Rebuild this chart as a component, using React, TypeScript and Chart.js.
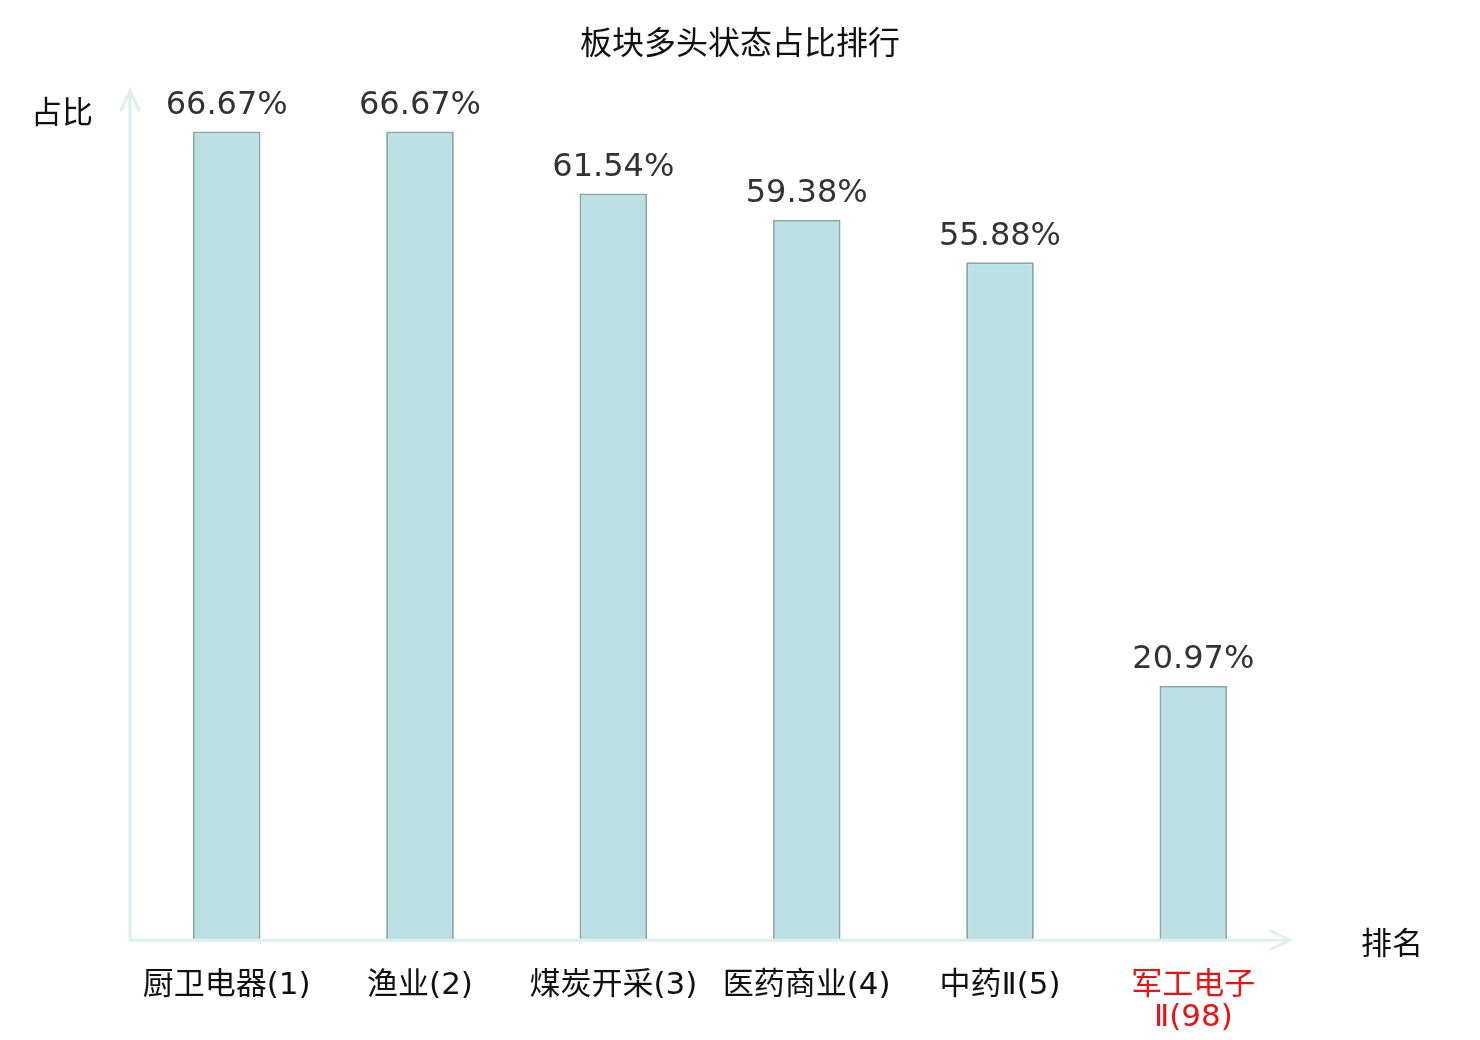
import { useEffect, useRef } from "react"
import { Chart, registerables, type Plugin } from "chart.js"

Chart.register(...registerables)

const title = "板块多头状态占比排行"
const categories: (string | string[])[] = [
  "厨卫电器(1)",
  "渔业(2)",
  "煤炭开采(3)",
  "医药商业(4)",
  "中药Ⅱ(5)",
  ["军工电子", "Ⅱ(98)"],
]
const shares = [66.67, 66.67, 61.54, 59.38, 55.88, 20.97]
const highlighted = [false, false, false, false, false, true]

const AXIS_COLOR = "#dcf1ef"
const CJK = '"Noto Sans CJK SC", "DejaVu Sans", sans-serif'
const MIXED = '"DejaVu Sans", "Noto Sans CJK SC", sans-serif'

// title, axis lines with arrow heads, axis names and value labels
const decorPlugin: Plugin<"bar"> = {
  id: "decor",
  afterDatasetsDraw(chart) {
    const { ctx, chartArea } = chart
    const { left, right, top, bottom } = chartArea
    ctx.save()
    ctx.strokeStyle = AXIS_COLOR
    ctx.lineWidth = 3
    ctx.lineCap = "round"
    ctx.beginPath()
    ctx.moveTo(left, bottom)
    ctx.lineTo(left, top)
    ctx.moveTo(left - 9, top + 19)
    ctx.lineTo(left, top)
    ctx.lineTo(left + 9, top + 19)
    ctx.moveTo(left, bottom)
    ctx.lineTo(right, bottom)
    ctx.moveTo(right - 19, bottom - 9)
    ctx.lineTo(right, bottom)
    ctx.lineTo(right - 19, bottom + 9)
    ctx.stroke()

    ctx.fillStyle = "#111"
    ctx.textBaseline = "middle"
    ctx.textAlign = "center"
    ctx.font = `32px ${CJK}`
    ctx.fillText(title, chart.width / 2, 42)

    ctx.font = `31px ${CJK}`
    ctx.textAlign = "right"
    ctx.fillText("占比", left - 37, top + 20)
    ctx.textAlign = "left"
    ctx.fillText("排名", right + 71, bottom + 2)

    const meta = chart.getDatasetMeta(0)
    ctx.fillStyle = "#333"
    ctx.font = '32px "DejaVu Sans", sans-serif'
    ctx.textAlign = "center"
    ctx.textBaseline = "bottom"
    meta.data.forEach((bar, i) => {
      ctx.fillText(shares[i].toFixed(2) + "%", bar.x, bar.y - 10)
    })
    ctx.restore()
  },
}

export default function App() {
  const canvasRef = useRef<HTMLCanvasElement>(null)
  const chartRef = useRef<Chart<"bar"> | null>(null)

  useEffect(() => {
    document.body.style.margin = "0"
    if (!canvasRef.current) return
    const ctx = canvasRef.current.getContext("2d")
    if (!ctx) return

    if (chartRef.current) chartRef.current.destroy()

    chartRef.current = new Chart(ctx, {
      type: "bar",
      data: {
        labels: categories,
        datasets: [
          {
            data: shares,
            backgroundColor: "#bce0e3",
            borderColor: "#8ba8a9",
            borderWidth: 2,
            barPercentage: 0.35,
            categoryPercentage: 1,
          },
        ],
      },
      options: {
        responsive: false,
        animation: false,
        layout: {
          padding: { left: 130, right: 190, top: 91, bottom: -24 },
        },
        scales: {
          x: {
            grid: { display: false, drawTicks: false },
            border: { display: false },
            ticks: {
              padding: 30,
              maxRotation: 0,
              autoSkip: false,
              font: { family: MIXED, size: 31, lineHeight: 1.03 },
              color: (c) => (highlighted[c.index] ? "#ee1111" : "#111"),
            },
          },
          y: {
            display: false,
            min: 0,
            max: 70,
          },
        },
        plugins: {
          legend: { display: false },
          tooltip: { enabled: false },
        },
      },
      plugins: [decorPlugin],
    })

    return () => {
      if (chartRef.current) {
        chartRef.current.destroy()
        chartRef.current = null
      }
    }
  }, [])

  return <canvas ref={canvasRef} width={1480} height={1040} />
}
